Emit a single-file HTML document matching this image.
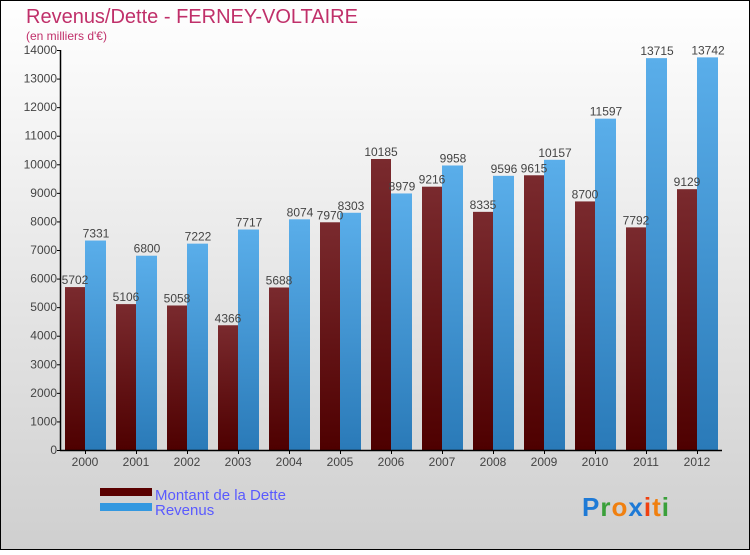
<!DOCTYPE html>
<html><head><meta charset="utf-8"><style>
body{margin:0}
#c{width:750px;height:550px;position:relative;font-family:"Liberation Sans","DejaVu Sans",sans-serif;}
</style></head><body>
<div id="c">
<svg width="750" height="550" id="svg">
<defs>
<linearGradient id="bg" x1="0" y1="0" x2="0" y2="1"><stop offset="0" stop-color="#ffffff"/><stop offset="1" stop-color="#cfcfcf"/></linearGradient>
<linearGradient id="gd" x1="0" y1="0" x2="0" y2="1"><stop offset="0" stop-color="#7a2a2e"/><stop offset="1" stop-color="#4e0000"/></linearGradient>
<linearGradient id="gr" x1="0" y1="0" x2="0" y2="1"><stop offset="0" stop-color="#5aaeea"/><stop offset="1" stop-color="#2a7ab8"/></linearGradient>
</defs>
<rect x="0.5" y="0.5" width="749" height="549" fill="url(#bg)" stroke="#000"/>
<text x="26" y="23" font-size="20" fill="#c0306a">Revenus/Dette - FERNEY-VOLTAIRE</text>
<text x="26" y="40" font-size="12" fill="#c0306a">(en milliers d'€)</text>
<g id="grid"></g>
<g id="bars"></g>
<g id="axes"></g>
<rect x="100" y="488" width="52" height="8" fill="#5a0000"/>
<text x="155" y="500" font-size="15" fill="#5a5aff">Montant de la Dette</text>
<rect x="100" y="503" width="52" height="8" fill="#3398e0"/>
<text x="155" y="515" font-size="15" fill="#5a5aff">Revenus</text>
<text x="582" y="516" font-size="26" font-weight="bold" letter-spacing="1"><tspan fill="#1e7ad6">P</tspan><tspan fill="#3aa03a">r</tspan><tspan fill="#f08010">o</tspan><tspan fill="#1e7ad6">x</tspan><tspan fill="#f04010">i</tspan><tspan fill="#f08010">t</tspan><tspan fill="#3aa03a">i</tspan></text>
</svg>
<script>
const years=["2000","2001","2002","2003","2004","2005","2006","2007","2008","2009","2010","2011","2012"];
const dette=[5702,5106,5058,4366,5688,7970,10185,9216,8335,9615,8700,7792,9129];
const revenus=[7331,6800,7222,7717,8074,8303,8979,9958,9596,10157,11597,13715,13742];
const yTicks=[0,1000,2000,3000,4000,5000,6000,7000,8000,9000,10000,11000,12000,13000,14000];
const NS="http://www.w3.org/2000/svg";
const x0=60,band=51,y0=450,yScale=400/14000;
const y=v=>y0-v*yScale;
const xb=i=>x0+i*band;
function mk(tag,attrs,parent,text){const e=document.createElementNS(NS,tag);for(const k in attrs)e.setAttribute(k,attrs[k]);if(text!==undefined)e.textContent=text;parent.appendChild(e);return e;}
const bars=document.getElementById('bars'),axes=document.getElementById('axes');
years.forEach((yr,i)=>{
 const bx=xb(i);
 const d=mk('rect',{x:bx+5,y:y(dette[i]),width:20,height:dette[i]*yScale,fill:'url(#gd)'},bars);
 
 
 const r=mk('rect',{x:bx+25,y:y(revenus[i]),width:21,height:revenus[i]*yScale,fill:'url(#gr)'},bars);
 
 
 const t1=mk('text',{x:bx+15,y:y(dette[i])-3,'font-size':12,fill:'#444','text-anchor':'middle'},bars,String(dette[i]));
 
 
 const t2=mk('text',{x:bx+36,y:y(revenus[i])-3,'font-size':12,fill:'#444','text-anchor':'middle'},bars,String(revenus[i]));
 
 
 const xl=mk('text',{x:bx+25,y:466,'font-size':12,fill:'#444','text-anchor':'middle'},axes,yr);
 
 
 mk('line',{x1:bx+25.5,x2:bx+25.5,y1:450,y2:454,stroke:'#000'},axes);
});
yTicks.forEach(v=>{
 mk('line',{x1:57,x2:61,y1:y(v)+0.5,y2:y(v)+0.5,stroke:'#000'},axes);
 const t=mk('text',{x:57,y:y(v)+4,'font-size':12,fill:'#444','text-anchor':'end'},axes,String(v));
 
 
});
const ya=mk('line',{x1:60.5,x2:60.5,y1:y(14000),y2:450,stroke:'#000','stroke-width':1.5},axes);


const xa=mk('line',{x1:60,x2:722,y1:450.5,y2:450.5,stroke:'#000','stroke-width':1.5},axes);


</script>
</div>
</body></html>
